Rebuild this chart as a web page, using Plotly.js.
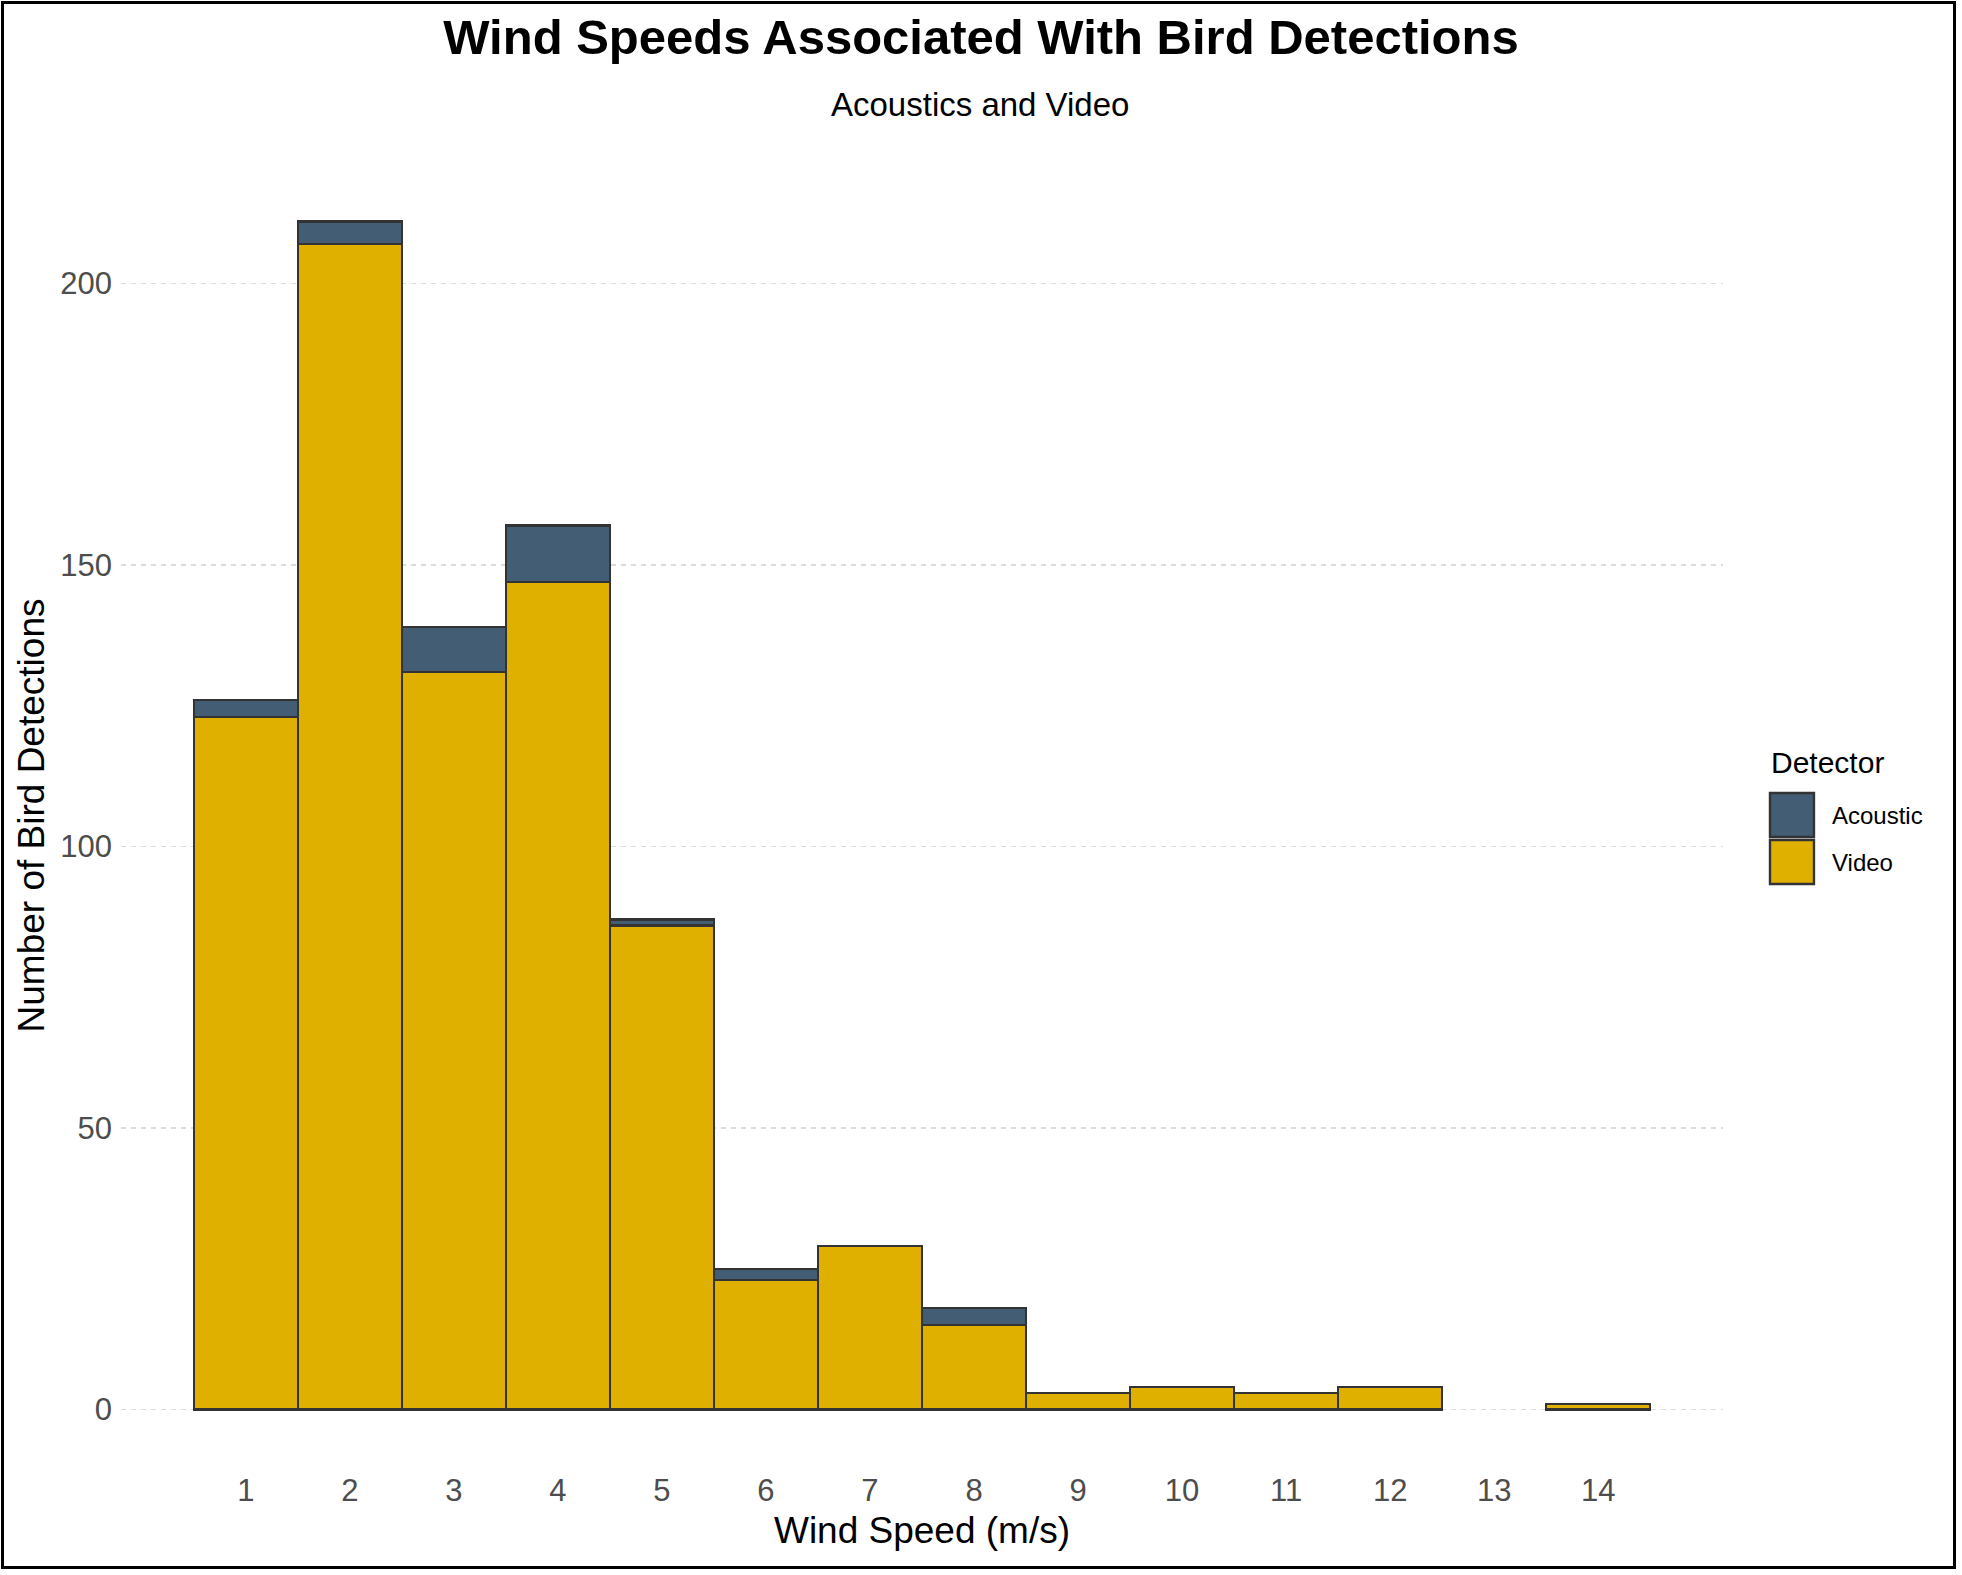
<!DOCTYPE html>
<html>
<head>
<meta charset="utf-8">
<script src="https://cdn.plot.ly/plotly-3.0.1.min.js"></script>
<style>
  body { margin: 0; background: #fff; }
  #wrap { position: relative; width: 1962px; height: 1575px; }
  #chart { width: 1962px; height: 1575px; }
  #frame { position: absolute; left: 1px; top: 1px; width: 1955px; height: 1568px;
           box-sizing: border-box; border: 3px solid #000; pointer-events: none; }
</style>
</head>
<body>
<div id="wrap">
  <div id="chart"></div>
  <div id="frame"></div>
</div>
<script>
// wind speed bins (m/s)
const windSpeeds = [1, 2, 3, 4, 5, 6, 7, 8, 9, 10, 11, 12, 13, 14];
// detections per bin
const videoCounts = [123, 207, 131, 147, 86, 23, 29, 15, 3, 4, 3, 4, 0, 1];
const acousticCounts = [3, 4, 8, 10, 1, 2, 0, 3, 0, 0, 0, 0, 0, 0];
const yTicks = [0, 50, 100, 150, 200];

const colAcoustic = '#435D74';
const colVideo = '#E0B000';
const font = 'Liberation Sans, Arial, sans-serif';

// plot area in page pixels, used to place the title and the hand-made legend
const L = 120.5, R = 1723, T = 161.5, B = 1469.5;
const px = x => (x - L) / (R - L);
const py = y => (B - y) / (B - T);

// empty bins get no bar at all (ggplot draws nothing there)
const noZero = arr => arr.map(v => (v === 0 ? null : v));

var data = [
  {
    name: 'Video',
    x: windSpeeds,
    y: noZero(videoCounts),
    type: 'bar',
    width: 1,
    marker: { color: colVideo, line: { color: '#333333', width: 2.4 } },
  },
  {
    name: 'Acoustic',
    x: windSpeeds,
    y: noZero(acousticCounts),
    type: 'bar',
    width: 1,
    marker: { color: colAcoustic, line: { color: '#333333', width: 2.4 } },
  },
];

// legend drawn by hand so the keys can be the ggplot size
const legendItems = [
  { label: 'Acoustic', color: colAcoustic, top: 793 },
  { label: 'Video', color: colVideo, top: 840 },
];
const shapes = legendItems.map(d => ({
  type: 'rect', xref: 'paper', yref: 'paper',
  x0: px(1770), x1: px(1814), y0: py(d.top), y1: py(d.top + 44),
  fillcolor: d.color, line: { color: '#333333', width: 2.4 },
}));
const annotations = [
  {
    text: 'Acoustics and Video', xref: 'paper', yref: 'paper', x: px(980), y: py(104),
    xanchor: 'center', yanchor: 'middle', showarrow: false,
    font: { family: font, size: 33, color: '#000' },
  },
  {
    text: 'Detector', xref: 'paper', yref: 'paper', x: px(1769), y: py(762),
    xanchor: 'left', yanchor: 'middle', showarrow: false,
    font: { family: font, size: 30, color: '#000' },
  },
].concat(legendItems.map(d => ({
  text: d.label, xref: 'paper', yref: 'paper', x: px(1830), y: py(d.top + 23),
  xanchor: 'left', yanchor: 'middle', showarrow: false,
  font: { family: font, size: 24, color: '#000' },
})));

var layout = {
  width: 1962,
  height: 1575,
  margin: { l: L, r: 1962 - R, t: T, b: 1575 - B },
  paper_bgcolor: '#fff',
  plot_bgcolor: '#fff',
  barmode: 'stack',
  bargap: 0,
  showlegend: false,
  font: { family: font, color: '#000' },
  title: {
    text: '<b>Wind Speeds Associated With Bird Detections</b>',
    font: { family: font, size: 49, color: '#000' },
    xref: 'container', x: 0.5, xanchor: 'center',
    yref: 'container', y: 1 - 37 / 1575, yanchor: 'middle',
  },
  xaxis: {
    range: [-0.2, 15.2],
    tickvals: windSpeeds,
    ticktext: windSpeeds.map(String),
    showgrid: false,
    zeroline: false,
    showline: false,
    ticks: '',
    tickfont: { family: font, size: 31, color: '#4D4D4D' },
    title: { text: 'Wind Speed (m/s)', font: { family: font, size: 37, color: '#000' }, standoff: 10 },
  },
  yaxis: {
    range: [-10.55, 221.55],
    tickvals: yTicks,
    showgrid: true,
    gridcolor: '#DCDCDC',
    gridwidth: 1.5,
    griddash: '5px,5px',
    zeroline: false,
    showline: false,
    ticks: '',
    ticklabelstandoff: 8,
    tickfont: { family: font, size: 31, color: '#4D4D4D' },
    title: { text: 'Number of Bird Detections', font: { family: font, size: 37, color: '#000' }, standoff: 4 },
  },
  shapes,
  annotations,
};

Plotly.newPlot('chart', data, layout, { staticPlot: true });
</script>
</body>
</html>
